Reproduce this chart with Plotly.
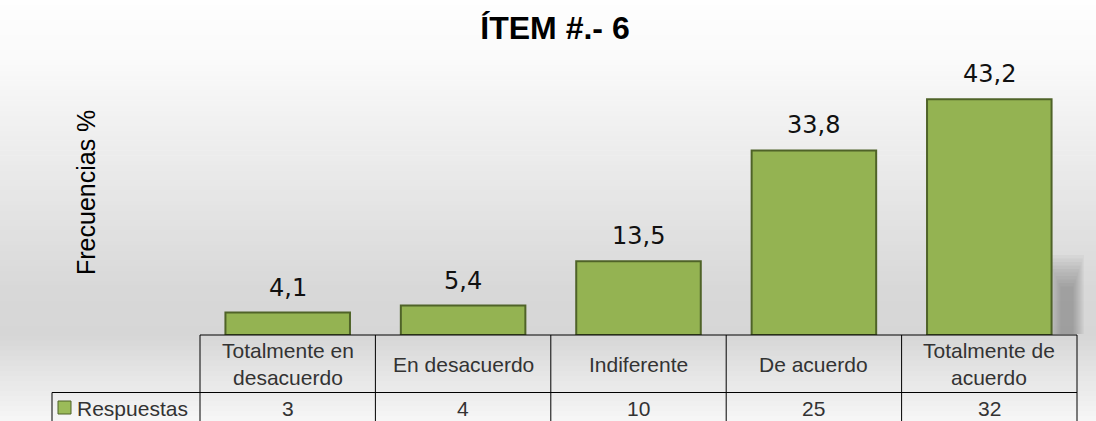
import plotly.graph_objects as go

# ---- data ----
categories = ["Totalmente en desacuerdo", "En desacuerdo", "Indiferente",
              "De acuerdo", "Totalmente de acuerdo"]
category_labels = ["Totalmente en<br>desacuerdo", "En desacuerdo", "Indiferente",
                   "De acuerdo", "Totalmente de<br>acuerdo"]
percentages = [4.1, 5.4, 13.5, 33.8, 43.2]
responses = [3, 4, 10, 25, 32]
series_name = "Respuestas"
title_text = "ÍTEM #.- 6"
y_title = "Frecuencias %"

# ---- geometry ----
W, H = 1096, 421
L, R, T, B = 200, 19, 62, 86
PW, PH = W - L - R, H - T - B
Y_MAX = 50


def xp(px):
    return (px - L) / PW


def yp(py):
    return (H - B - py) / PH


BAR_FILL = "#94b352"
BAR_LINE = "#4f6328"
TEXT_GREY = "#333333"

fig = go.Figure()
fig.add_trace(go.Bar(
    x=categories, y=percentages, width=0.71,
    marker=dict(color=BAR_FILL, line=dict(color=BAR_LINE, width=2)),
    name=series_name, showlegend=False, hoverinfo="skip",
))

shapes = []


# background gradient bands
def grey_at(py):
    stops = [(0, 254), (60, 250), (290, 216), (335, 214), (421, 247)]
    for (a, ga), (b, gb) in zip(stops[:-1], stops[1:]):
        if a <= py <= b:
            t = (py - a) / (b - a)
            return round(ga + (gb - ga) * t)
    return 247


N = 84
for k in range(N):
    top = k * H / N
    bot = (k + 1) * H / N
    g = grey_at((top + bot) / 2)
    shapes.append(dict(type="rect", xref="paper", yref="paper", layer="below",
                       x0=xp(0), x1=xp(W), y0=yp(bot + 0.5), y1=yp(top),
                       fillcolor=f"rgb({g},{g},{g})", line=dict(width=0)))

# soft blurred shadow to the right of the last bar
for j in range(10):
    shapes.append(dict(type="rect", xref="paper", yref="paper", layer="below",
                       x0=xp(1046 + j * 1.6), x1=xp(1084 - j * 1.2),
                       y0=yp(334), y1=yp(255 + j * 3.5),
                       fillcolor="rgba(80,80,80,0.045)", line=dict(width=0)))

# table lines
n = len(categories)
line = dict(color="black", width=1)
top_y, mid_y, bot_y = 335, 392.5, 430
shapes.append(dict(type="line", xref="paper", yref="paper", x0=0, x1=1,
                   y0=yp(top_y), y1=yp(top_y), line=line))
shapes.append(dict(type="line", xref="paper", yref="paper", x0=xp(52), x1=1,
                   y0=yp(mid_y), y1=yp(mid_y), line=line))
for i in range(n + 1):
    shapes.append(dict(type="line", xref="paper", yref="paper", x0=i / n, x1=i / n,
                       y0=yp(top_y), y1=yp(bot_y), line=line))
shapes.append(dict(type="line", xref="paper", yref="paper", x0=xp(52), x1=xp(52),
                   y0=yp(mid_y), y1=yp(bot_y), line=line))
# legend key
shapes.append(dict(type="rect", xref="paper", yref="paper",
                   x0=xp(58), x1=xp(71), y0=yp(414), y1=yp(401),
                   fillcolor="#9bbb59", line=dict(color=BAR_LINE, width=1)))

annotations = []
for c, v in zip(categories, percentages):
    annotations.append(dict(x=c, y=v, xref="x", yref="y", yanchor="bottom",
                            xanchor="center", yshift=9, showarrow=False,
                            text=f"{v:.1f}".replace(".", ","),
                            font=dict(family="DejaVu Sans", size=24, color="#111111")))
for i, (lab, r) in enumerate(zip(category_labels, responses)):
    annotations.append(dict(x=(i + 0.5) / n, y=yp(364), xref="paper", yref="paper",
                            xanchor="center", yanchor="middle", showarrow=False,
                            text=lab,
                            font=dict(family="Liberation Sans", size=21, color=TEXT_GREY)))
    annotations.append(dict(x=(i + 0.5) / n, y=yp(408), xref="paper", yref="paper",
                            xanchor="center", yanchor="middle", showarrow=False,
                            text=str(r),
                            font=dict(family="Liberation Sans", size=21, color=TEXT_GREY)))
annotations.append(dict(x=xp(75), y=yp(408), xref="paper", yref="paper",
                        xanchor="left", yanchor="middle", showarrow=False,
                        text=series_name,
                        font=dict(family="Liberation Sans", size=21, color=TEXT_GREY)))
annotations.append(dict(x=xp(86), y=yp(193), xref="paper", yref="paper",
                        xanchor="center", yanchor="middle",
                        textangle=-90, showarrow=False, text=y_title,
                        font=dict(family="Liberation Sans", size=25, color="black")))

fig.update_layout(
    width=W, height=H,
    margin=dict(l=L, r=R, t=T, b=B, pad=0),
    paper_bgcolor="white", plot_bgcolor="rgba(0,0,0,0)",
    title=dict(text=title_text, x=555 / W, xref="container", xanchor="center",
               y=1 - 28 / H, yref="container", yanchor="middle",
               font=dict(family="Liberation Sans", size=32, color="black",
                         weight="bold")),
    xaxis=dict(range=[-0.5, n - 0.5], showticklabels=False, showgrid=False,
               zeroline=False, showline=False, ticks="", fixedrange=True),
    yaxis=dict(range=[0, Y_MAX], showticklabels=False, showgrid=False,
               zeroline=False, showline=False, ticks="", fixedrange=True),
    shapes=shapes, annotations=annotations, bargap=0.29,
)

fig.write_html("out.html", config={"displayModeBar": False},
               post_script="document.body.style.margin='0';"
                           "document.body.style.overflow='hidden';")
